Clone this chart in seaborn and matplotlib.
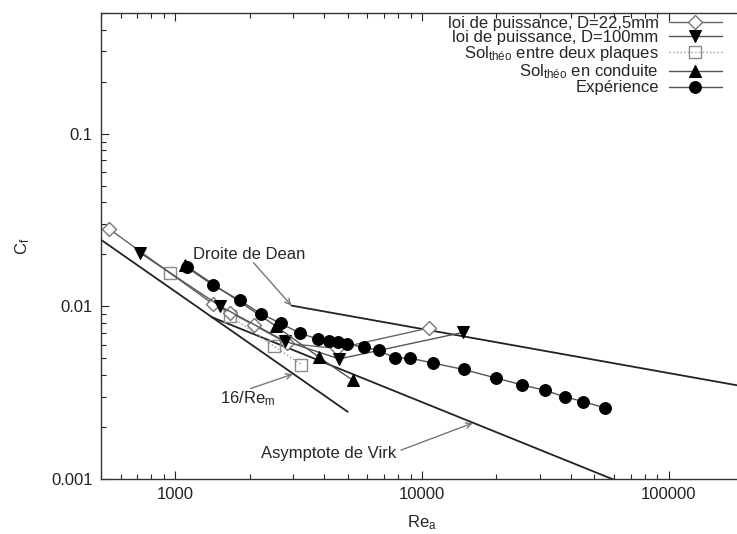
import numpy as np
import pandas as pd
import matplotlib
matplotlib.use("Agg")
import matplotlib.pyplot as plt
import seaborn as sns

# --- data (Re_a, C_f) ---
lp22_re = [541, 1423, 1673, 2081, 2845, 4530, 10700]
lp22_cf = [0.028, 0.0103, 0.0092, 0.0078, 0.0061, 0.0057, 0.0075]

lp100_re = [720, 1524, 2774, 4620, 14620]
lp100_cf = [0.0204, 0.0100, 0.0063, 0.00496, 0.00706]

plaques_re = [948, 1673, 2510, 3245]
plaques_cf = [0.0157, 0.0088, 0.00587, 0.0046]

conduite_re = [1090, 2550, 3828, 5260]
conduite_cf = [0.0174, 0.0077, 0.00507, 0.00372]

exp_re = [1115, 1423, 1825, 2218, 2672, 3190, 3785, 4200, 4570, 4960, 5800,
          6670, 7770, 8910, 11100, 14730, 20000, 25400, 31600, 37900, 45000, 55100]
exp_cf = [0.0168, 0.01325, 0.01083, 0.00908, 0.00798, 0.0070, 0.00646, 0.00632,
          0.00618, 0.00607, 0.00578, 0.00558, 0.00502, 0.00502, 0.00469, 0.00431,
          0.00384, 0.00351, 0.00326, 0.00299, 0.00281, 0.00258]

# reference lines (end points)
lam_re = [500, 5000]
lam_cf = [0.0243, 0.00245]
virk_re = [1400, 60000]
virk_cf = [0.00868, 0.00099]
dean_re = [2958, 200000]
dean_cf = [0.0101, 0.00344]

sns.set_style("ticks")
plt.rcParams["font.family"] = ["Liberation Sans", "DejaVu Sans"]
plt.rcParams["mathtext.fontset"] = "custom"
plt.rcParams["mathtext.rm"] = "Liberation Sans"
plt.rcParams["mathtext.it"] = "Liberation Sans:italic"

fig = plt.figure(figsize=(7.37, 5.34), dpi=100)
ax = fig.add_axes([101 / 737, 55 / 534, 642 / 737, 466 / 534])
ax.set(xscale="log", yscale="log")

ref_kw = dict(color="#222222", linewidth=1.3, estimator=None, sort=False, ax=ax)
sns.lineplot(x=lam_re, y=lam_cf, **ref_kw)
sns.lineplot(x=virk_re, y=virk_cf, **ref_kw)
sns.lineplot(x=dean_re, y=dean_cf, **ref_kw)

common = dict(estimator=None, sort=False, ax=ax, linewidth=1.0)
sns.lineplot(x=plaques_re, y=plaques_cf, color="#9a9a9a", linestyle=":", marker="s",
             markersize=9, markerfacecolor="none", markeredgecolor="#8a8a8a",
             markeredgewidth=1.0, label=r"Sol$_{\mathrm{théo}}$ entre deux plaques", **common)
sns.lineplot(x=lp22_re, y=lp22_cf, color="#666666", marker="D", markersize=7,
             markerfacecolor="white", markeredgecolor="#777777", markeredgewidth=1.0,
             label="loi de puissance, D=22,5mm", **common)
sns.lineplot(x=lp100_re, y=lp100_cf, color="#555555", marker="v", markersize=8,
             markerfacecolor="black", markeredgecolor="black",
             label="loi de puissance, D=100mm", **common)
sns.lineplot(x=conduite_re, y=conduite_cf, color="#555555", marker="^", markersize=8,
             markerfacecolor="black", markeredgecolor="black",
             label=r"Sol$_{\mathrm{théo}}$ en conduite", **common)
sns.lineplot(x=exp_re, y=exp_cf, color="#555555", marker="o", markersize=8.5,
             markerfacecolor="black", markeredgecolor="black",
             label="Expérience", **common)

ax.set_xlim(500, 200000)
ax.set_ylim(0.001, 0.5)
ax.set_xticks([1000, 10000, 100000])
ax.set_xticklabels(["1000", "10000", "100000"])
ax.set_yticks([0.001, 0.01, 0.1])
ax.set_yticklabels(["0.001", "0.01", "0.1"])
ax.tick_params(which="both", direction="in", top=True, right=False, labelsize=12,
               colors="#222222", pad=6)
ax.tick_params(which="major", length=6, width=0.8)
ax.tick_params(which="minor", length=3.5, width=0.8)
ax.spines["right"].set_visible(False)
for s in ax.spines.values():
    s.set_color("#333333")
    s.set_linewidth(1.0)
ax.set_xlabel(r"Re$_\mathrm{a}$", fontsize=12, labelpad=8)
ax.set_ylabel(r"C$_\mathrm{f}$", fontsize=12, labelpad=14)

# annotations
arrow = dict(arrowstyle="->", color="#777777", lw=1.0, shrinkA=0, shrinkB=0)
ax.text(1183, 0.0199, "Droite de Dean", fontsize=12, va="center", ha="left")
ax.annotate("", xy=(2958, 0.0101), xytext=(2075, 0.0179), arrowprops=arrow)
ax.text(1524, 0.00292, r"16/Re$_\mathrm{m}$", fontsize=12, va="center", ha="left")
ax.annotate("", xy=(2993, 0.00405), xytext=(2018, 0.00334), arrowprops=arrow)
ax.text(2217, 0.00141, "Asymptote de Virk", fontsize=12, va="center", ha="left")
ax.annotate("", xy=(16070, 0.00211), xytext=(8222, 0.00147), arrowprops=arrow)

handles, labels = ax.get_legend_handles_labels()
order = [labels.index(l) for l in ["loi de puissance, D=22,5mm", "loi de puissance, D=100mm",
                                    r"Sol$_{\mathrm{théo}}$ entre deux plaques",
                                    r"Sol$_{\mathrm{théo}}$ en conduite", "Expérience"]]
ax.legend([handles[i] for i in order], [labels[i] for i in order],
          loc="upper right", bbox_to_anchor=(722 / 737, 518 / 534),
          bbox_transform=fig.transFigure, frameon=False, markerfirst=False,
          fontsize=12, handlelength=3.2, labelspacing=-0.05, borderpad=0,
          borderaxespad=0, handletextpad=0.6)

fig.savefig("out.png", dpi=100)
